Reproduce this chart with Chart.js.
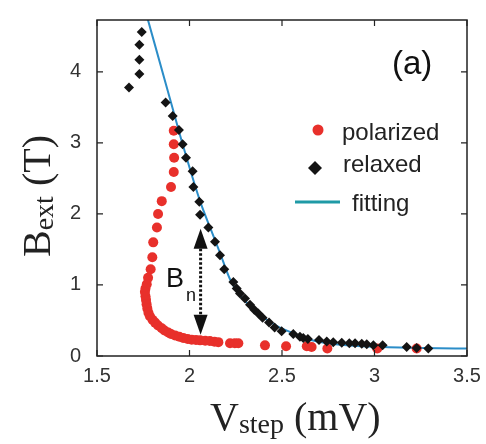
<!DOCTYPE html>
<html>
<head>
<meta charset="utf-8">
<script src="https://cdn.jsdelivr.net/npm/chart.js@4.4.1/dist/chart.umd.min.js"></script>
<style>
  html, body { margin: 0; padding: 0; background: #fff; }
  #wrap { width: 486px; height: 444px; }
</style>
</head>
<body>
<div id="wrap"><canvas id="chart" width="486" height="444"></canvas></div>
<script>
// polarized branch (red circles)
const polarizedV = [1.915, 1.915, 1.917, 1.915, 1.90, 1.85, 1.83, 1.824, 1.804, 1.799, 1.790, 1.776, 1.769, 1.762,
  1.759, 1.762, 1.765, 1.768, 1.772, 1.778, 1.786, 1.80, 1.814, 1.83, 1.85, 1.865, 1.885, 1.90, 1.922, 1.945,
  1.966, 1.99, 2.012, 2.035, 2.057, 2.085, 2.11, 2.135, 2.156, 2.219, 2.245, 2.264, 2.408, 2.522, 2.634, 2.66,
  2.745, 3.015, 3.228];
const polarizedB = [3.17, 2.98, 2.79, 2.59, 2.38, 2.18, 2.00, 1.81, 1.60, 1.39, 1.22, 1.10, 1.01, 0.95,
  0.90, 0.84, 0.79, 0.73, 0.67, 0.61, 0.56, 0.51, 0.47, 0.43, 0.39, 0.36, 0.33, 0.31, 0.29, 0.27,
  0.255, 0.24, 0.23, 0.225, 0.22, 0.215, 0.21, 0.20, 0.195, 0.18, 0.18, 0.18, 0.15, 0.136, 0.136, 0.127,
  0.105, 0.105, 0.105];

// relaxed branch (black diamonds)
const relaxedV = [1.742, 1.729, 1.729, 1.729, 1.673, 1.871, 1.909, 1.943, 1.963, 1.981, 2.017, 2.021, 2.053, 2.057,
  2.102, 2.138, 2.165, 2.188, 2.237, 2.255, 2.273, 2.30, 2.327, 2.35, 2.372, 2.395, 2.43, 2.46, 2.498, 2.561,
  2.597, 2.615, 2.64, 2.70, 2.742, 2.777, 2.823, 2.864, 2.895, 2.931, 2.958, 2.994, 3.044, 3.174, 3.228, 3.291];
const relaxedB = [4.56, 4.38, 4.17, 3.97, 3.78, 3.57, 3.38, 3.18, 2.98, 2.79, 2.60, 2.38, 2.17, 1.99,
  1.81, 1.61, 1.42, 1.22, 1.04, 0.95, 0.88, 0.81, 0.72, 0.65, 0.60, 0.54, 0.47, 0.40, 0.35, 0.31,
  0.27, 0.255, 0.24, 0.225, 0.205, 0.195, 0.187, 0.18, 0.18, 0.173, 0.164, 0.15, 0.15, 0.127, 0.113, 0.105];

// fitting curve
const fitV = [1.768, 1.90, 1.963, 2.057, 2.111, 2.165, 2.219, 2.273, 2.345, 2.417, 2.489, 2.561, 2.62, 2.776, 3.048, 3.5];
const fitB = [4.80, 3.57, 2.98, 2.18, 1.81, 1.45, 1.08, 0.855, 0.67, 0.51, 0.40, 0.32, 0.25, 0.17, 0.127, 0.105];

const xTicks = [1.5, 2, 2.5, 3, 3.5];
const yTicks = [0, 1, 2, 3, 4];

// B_n arrow: field value of top and bottom tips at V = 2.06
const arrowV = 2.06;
const arrowB = [1.79, 0.30];

const toPoints = (xs, ys) => xs.map((x, i) => ({ x, y: ys[i] }));

const RED = '#e8302b';
const BLACK = '#141414';
const LINE = '#2b8dc8';
const LEGEND_LINE = '#1f9aa6';

const decorations = {
  id: 'decorations',
  afterDraw(chart) {
    const { ctx, chartArea: a, scales: { x, y } } = chart;
    ctx.save();

    // frame with inward ticks on all sides
    ctx.strokeStyle = '#222';
    ctx.lineWidth = 1.5;
    ctx.strokeRect(a.left, a.top, a.right - a.left, a.bottom - a.top);
    ctx.lineWidth = 1.2;
    ctx.beginPath();
    xTicks.forEach(v => {
      const px = x.getPixelForValue(v);
      ctx.moveTo(px, a.bottom); ctx.lineTo(px, a.bottom - 6);
      ctx.moveTo(px, a.top); ctx.lineTo(px, a.top + 6);
    });
    yTicks.forEach(v => {
      const py = y.getPixelForValue(v);
      ctx.moveTo(a.left, py); ctx.lineTo(a.left + 6, py);
      ctx.moveTo(a.right, py); ctx.lineTo(a.right - 6, py);
    });
    ctx.stroke();

    // B_n double arrow
    const ax = x.getPixelForValue(arrowV);
    const yTop = y.getPixelForValue(arrowB[0]);
    const yBot = y.getPixelForValue(arrowB[1]);
    const headH = 20, headW = 7;
    ctx.strokeStyle = '#111';
    ctx.lineWidth = 3;
    ctx.setLineDash([2.5, 2]);
    ctx.beginPath();
    ctx.moveTo(ax, yTop + headH);
    ctx.lineTo(ax, yBot - headH);
    ctx.stroke();
    ctx.setLineDash([]);
    ctx.fillStyle = '#111';
    ctx.beginPath();
    ctx.moveTo(ax, yTop); ctx.lineTo(ax - headW, yTop + headH); ctx.lineTo(ax + headW, yTop + headH);
    ctx.closePath(); ctx.fill();
    ctx.beginPath();
    ctx.moveTo(ax, yBot); ctx.lineTo(ax - headW, yBot - headH); ctx.lineTo(ax + headW, yBot - headH);
    ctx.closePath(); ctx.fill();

    ctx.fillStyle = '#111';
    ctx.textBaseline = 'alphabetic';
    ctx.font = '27px "Liberation Sans", Arial, sans-serif';
    ctx.fillText('B', 166, 287);
    ctx.font = '18px "Liberation Sans", Arial, sans-serif';
    ctx.fillText('n', 186, 301);

    // panel label
    ctx.font = '33px "Liberation Sans", Arial, sans-serif';
    ctx.fillText('(a)', 392, 74);

    // legend
    const ds = chart.data.datasets;
    ctx.font = '24px "Liberation Sans", Arial, sans-serif';
    ctx.fillStyle = '#222';
    ctx.fillText(ds[1].label, 342, 140);
    ctx.fillText(ds[0].label, 343, 172);
    ctx.fillText(ds[2].label, 352, 211);

    ctx.fillStyle = RED;
    ctx.beginPath(); ctx.arc(318, 130, 5.5, 0, Math.PI * 2); ctx.fill();
    ctx.fillStyle = BLACK;
    ctx.beginPath();
    ctx.moveTo(315, 161); ctx.lineTo(322, 168); ctx.lineTo(315, 175); ctx.lineTo(308, 168);
    ctx.closePath(); ctx.fill();
    ctx.strokeStyle = LEGEND_LINE;
    ctx.lineWidth = 3;
    ctx.beginPath(); ctx.moveTo(295, 202); ctx.lineTo(340, 202); ctx.stroke();

    // axis titles with subscripts
    ctx.fillStyle = '#222';
    const serif = s => s + 'px "Liberation Serif", "Times New Roman", serif';
    let cx = 210;
    ctx.font = serif(40); ctx.fillText('V', cx, 430); cx += ctx.measureText('V').width;
    ctx.font = serif(28); ctx.fillText('step', cx, 433); cx += ctx.measureText('step').width;
    ctx.font = serif(40); ctx.fillText(' (mV)', cx, 430);

    ctx.translate(50, 257);
    ctx.rotate(-Math.PI / 2);
    cx = 0;
    ctx.font = serif(40); ctx.fillText('B', cx, 0); cx += ctx.measureText('B').width;
    ctx.font = serif(28); ctx.fillText('ext', cx, 3); cx += ctx.measureText('ext').width;
    ctx.font = serif(40); ctx.fillText(' (T)', cx, 0);

    ctx.restore();
  }
};

new Chart(document.getElementById('chart'), {
  type: 'scatter',
  data: {
    datasets: [
      {
        label: 'relaxed',
        data: toPoints(relaxedV, relaxedB),
        pointStyle: 'rectRot',
        pointRadius: 5,
        backgroundColor: BLACK,
        borderColor: BLACK,
        borderWidth: 0,
        order: 1
      },
      {
        label: 'polarized',
        data: toPoints(polarizedV, polarizedB),
        pointStyle: 'circle',
        pointRadius: 5,
        backgroundColor: RED,
        borderColor: RED,
        borderWidth: 0,
        order: 2
      },
      {
        label: 'fitting',
        data: toPoints(fitV, fitB),
        showLine: true,
        pointRadius: 0,
        borderColor: LINE,
        borderWidth: 2,
        cubicInterpolationMode: 'monotone',
        order: 3
      }
    ]
  },
  options: {
    responsive: false,
    animation: false,
    layout: { padding: { top: 9, right: 19, left: 0, bottom: 0 } },
    plugins: { legend: { display: false }, tooltip: { enabled: false } },
    scales: {
      x: {
        type: 'linear',
        min: 1.5,
        max: 3.5,
        grid: { display: false },
        border: { display: false },
        afterBuildTicks: s => { s.ticks = xTicks.map(v => ({ value: v })); },
        afterFit: s => { s.height = 88; },
        ticks: {
          padding: 0,
          color: '#333',
          maxRotation: 0,
          font: { family: '"Liberation Sans", Arial, sans-serif', size: 20 },
          callback: v => String(v)
        }
      },
      y: {
        min: 0,
        max: 4.73,
        grid: { display: false },
        border: { display: false },
        afterBuildTicks: s => { s.ticks = yTicks.map(v => ({ value: v })); },
        afterFit: s => { s.width = 97; },
        ticks: {
          padding: 8,
          color: '#333',
          font: { family: '"Liberation Sans", Arial, sans-serif', size: 20 },
          callback: v => String(v)
        }
      }
    }
  },
  plugins: [decorations]
});
</script>
</body>
</html>
